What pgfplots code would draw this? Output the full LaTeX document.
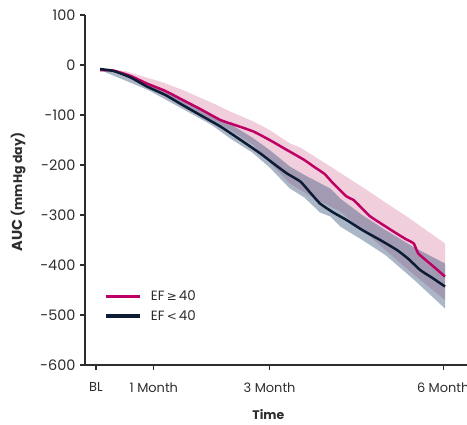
\documentclass[border=0pt]{standalone}
\usepackage{pgfplots}
\pgfplotsset{compat=1.18}
\usepackage{fontspec}
\setmainfont{Poppins}
\newfontfamily\sym{DejaVu Sans}
\definecolor{pinkline}{RGB}{190,0,100}
\definecolor{navyline}{RGB}{12,28,52}
\definecolor{pinkband}{RGB}{205,80,130}
\definecolor{navyband}{RGB}{45,75,115}
\definecolor{txt}{RGB}{45,45,45}
\begin{document}
\begin{tikzpicture}
\begin{axis}[
  scale only axis, width=382bp, height=350bp,
  xmin=-0.19, xmax=6.41, ymin=-600, ymax=100,
  axis lines=left, axis line style={-, line width=1.2pt, color=txt},
  xtick={0,1,3,6}, xticklabels={BL,1 Month,3 Month,6 Month},
  ytick={-600,-500,...,100}, yticklabels={-600,-500,-400,-300,-200,-100,0,100},
  tick align=outside, major tick length=5bp,
  tick style={line width=1.1pt, color=txt},
  xticklabel style={font=\fontsize{13}{15}\selectfont, text=txt, yshift=-9bp},
  yticklabel style={font=\fontsize{14.5}{16}\selectfont, text=txt, xshift=-1bp},
  xlabel={Time}, xlabel style={font=\fontsize{12.5}{14}\selectfont\bfseries, text=txt, at={(axis description cs:0.48,-0.142)}, anchor=center},
  ylabel={AUC {\fontsize{12.5}{14}\selectfont (mmHg day)}}, ylabel style={font=\fontsize{14.5}{16}\selectfont\bfseries, text=txt, at={(axis description cs:-0.175,0.494)}, anchor=center},
  clip=false,
  legend style={at={(axis description cs:0.05,0.215)}, anchor=north west, draw=none, fill=none, font=\fontsize{13.5}{15}\selectfont, text=txt, row sep=6bp, column sep=0pt, inner sep=0pt, nodes={inner sep=1bp}},
  legend cell align=left,
  legend image code/.code={\draw[#1, line width=3.2pt] (0bp,0bp) -- (34bp,0bp); \path[draw=none, fill=none] (0bp,0bp) rectangle (44bp,0.1bp);},
]
% pink band (EF >= 40)
\addplot[draw=none, fill=pinkband, fill opacity=0.28, forget plot] coordinates {
(0.07,-8) (0.5,-12) (0.9,-26) (1.11,-33) (1.5,-50) (2.03,-77) (2.32,-93) (2.72,-113) (3.0,-130) (3.35,-157) (3.53,-165) (4.05,-203) (4.68,-250) (5.0,-275) (5.37,-303) (5.7,-330) (6.03,-357)
(6.03,-470) (5.5,-420) (5.0,-370) (4.6,-330) (4.22,-293) (4.05,-283) (3.7,-262) (3.35,-237) (3.0,-195) (2.72,-160) (2.32,-130) (2.0,-110) (1.5,-80) (0.9,-45) (0.5,-18) (0.07,-12)
} -- cycle;
% navy band (EF < 40)
\addplot[draw=none, fill=navyband, fill opacity=0.4, forget plot] coordinates {
(0.07,-7) (0.9,-38) (1.5,-68) (2.0,-100) (2.32,-118) (2.7,-145) (3.0,-170) (3.35,-203) (3.6,-220) (4.05,-247) (4.22,-267) (4.6,-300) (5.0,-330) (5.5,-365) (6.03,-397)
(6.03,-487) (5.5,-430) (5.0,-380) (4.6,-350) (4.22,-323) (4.05,-303) (3.87,-295) (3.6,-265) (3.35,-247) (3.0,-205) (2.7,-175) (2.32,-147) (2.0,-120) (1.5,-88) (0.9,-50) (0.07,-10)
} -- cycle;
\addplot[pinkline, line width=2.5pt, smooth, tension=0.3] coordinates {
(0.07,-10) (0.3,-11) (0.6,-22) (0.88,-37) (1.2,-52) (1.45,-67) (1.8,-88) (2.15,-110) (2.4,-120) (2.72,-133) (3.0,-150) (3.3,-170) (3.6,-190) (3.76,-203) (3.95,-218) (4.1,-237) (4.33,-263) (4.45,-270) (4.6,-287) (4.74,-303) (5.14,-333) (5.35,-348) (5.49,-357) (5.57,-377) (5.8,-400) (6.03,-423)
};
\addlegendentry{EF{\,\sym\fontsize{12}{13}\selectfont ≥\,}40}
\addplot[navyline, line width=2.5pt, smooth, tension=0.3] coordinates {
(0.07,-8) (0.3,-12) (0.6,-25) (0.88,-43) (1.2,-60) (1.45,-77) (1.8,-100) (2.15,-123) (2.5,-150) (2.84,-177) (3.1,-200) (3.3,-217) (3.53,-233) (3.7,-255) (3.87,-277) (4.1,-295) (4.33,-310) (4.6,-330) (4.91,-350) (5.2,-370) (5.4,-388) (5.6,-410) (5.8,-425) (6.03,-443)
};
\addlegendentry{EF{\,\sym\fontsize{12}{13}\selectfont <\,}40}
\coordinate (bbl) at (rel axis cs:-0.2225,-0.1714);
\coordinate (btr) at (rel axis cs:1,1.0429);
\end{axis}
\pgfresetboundingbox
\useasboundingbox (bbl) rectangle (btr);
\end{tikzpicture}
\end{document}
